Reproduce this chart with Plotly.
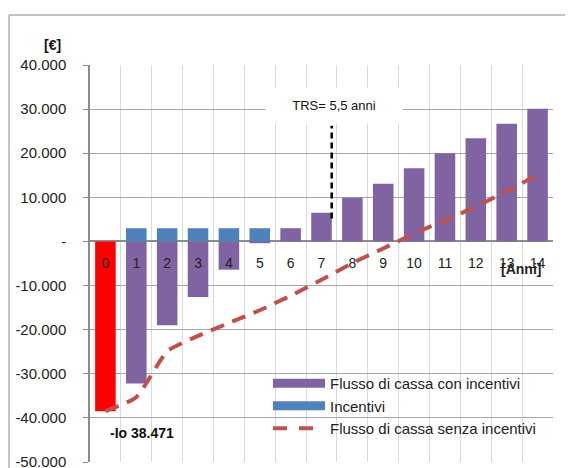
import plotly.graph_objects as go

# ---- data ----
anni = list(range(15))
flusso_con = [-38471, -32200, -19000, -12600, -6400, -400, 3000, 6500, 9900, 13100, 16600, 20000, 23400, 26700, 30100]
incentivi = [0, 3000, 3000, 3000, 3000, 3000, 0, 0, 0, 0, 0, 0, 0, 0, 0]
flusso_senza = [-38471, -35300, -24900, -21400, -18500, -15600, -12300, -8700, -4900, -1600, 1800, 4800, 7900, 11400, 15100]
y_tickvals = [40000, 30000, 20000, 10000, 0, -10000, -20000, -30000, -40000, -50000]
y_ticktext = ["40.000", "30.000", "20.000", "10.000", "-", "-10.000", "-20.000", "-30.000", "-40.000", "-50.000"]
trs_x = 7.33
trs_y = [5200, 26200]

PURPLE = "#8064a2"
BLUE = "#4f81bd"
RED = "#ff0000"
LINE_RED = "#c0504d"
FONT = "Liberation Sans"

# page has an 8px body margin; figure occupies page (8,8)-(573,468)
W, H = 565, 460
ML, MR, MT, MB = 82, 20, 57, 6
PW, PH = W - ML - MR, H - MT - MB
def px_x(px):  # page pixel -> paper
    return (px - 90) / PW
def px_y(py):
    return (462 - py) / PH

fig = go.Figure()

fig.add_trace(go.Bar(x=anni[:1], y=flusso_con[:1], marker=dict(color=RED, line=dict(width=0)),
                     showlegend=False, name="Investimento"))
fig.add_trace(go.Bar(x=anni[1:], y=flusso_con[1:], marker=dict(color=PURPLE, line=dict(width=0)),
                     showlegend=False, name="Flusso di cassa con incentivi"))
fig.add_trace(go.Bar(x=anni, y=incentivi, marker=dict(color=BLUE, line=dict(width=0)),
                     showlegend=False, name="Incentivi"))
fig.add_trace(go.Scatter(x=anni, y=flusso_senza, mode="lines",
                         line=dict(color=LINE_RED, width=4, dash="14px,9px", shape="spline", smoothing=0.5),
                         showlegend=False, name="Flusso di cassa senza incentivi"))

# legend entries (wide symbols as in the original)
fig.add_trace(go.Scatter(x=[None], y=[None], mode="lines", line=dict(color=PURPLE, width=9),
                         name="Flusso di cassa con incentivi"))
fig.add_trace(go.Scatter(x=[None], y=[None], mode="lines", line=dict(color=BLUE, width=9),
                         name="Incentivi"))
fig.add_trace(go.Scatter(x=[None], y=[None], mode="lines", line=dict(color=LINE_RED, width=4, dash="14px,12px"),
                         name="Flusso di cassa senza incentivi"))

fig.update_layout(
    width=W, height=H,
    margin=dict(l=ML, r=MR, t=MT, b=MB, autoexpand=False),
    paper_bgcolor="white", plot_bgcolor="white",
    barmode="relative", bargap=0.334,
    font=dict(family=FONT, size=14, color="#222222"),
    showlegend=True,
    legend=dict(x=px_x(268), y=px_y(367), xanchor="left", yanchor="top",
                bgcolor="rgba(0,0,0,0)", font=dict(size=15, color="#222222"),
                itemwidth=52, tracegroupgap=0),
    xaxis=dict(range=[-0.5, 14.5], tickmode="array", tickvals=anni, ticktext=[str(a) for a in anni],
               showgrid=False, zeroline=False, showline=False, automargin=False,
               anchor="free", position=px_y(241),
               ticks="outside", ticklen=9, tickcolor="rgba(0,0,0,0)",
               tickfont=dict(size=14, color="#222222"),
               minor=dict(tickvals=[a - 0.5 for a in anni] + [anni[-1] + 0.5], showgrid=True,
                          gridcolor="#d9d9d9", gridwidth=1.3, ticks="")),
    yaxis=dict(range=[-50000, 40000], tickmode="array", tickvals=y_tickvals, ticktext=y_ticktext,
               showgrid=True, gridcolor="#a6a6a6", gridwidth=1.3, automargin=False,
               zeroline=True, zerolinecolor="#8c8c8c", zerolinewidth=1.5,
               showline=True, linecolor="#8c8c8c", linewidth=1.5,
               ticks="outside", ticklen=5, tickcolor="#8c8c8c", ticklabelstandoff=14,
               ticklabeloverflow="allow",
               tickfont=dict(size=15, color="#222222")),
)

# outer chart frame (top and left edges visible)
fig.add_shape(type="line", xref="paper", yref="paper", x0=px_x(9), x1=px_x(580), y0=px_y(15), y1=px_y(15),
              line=dict(color="#b0b0b0", width=1.5), layer="below")
fig.add_shape(type="line", xref="paper", yref="paper", x0=px_x(9), x1=px_x(9), y0=px_y(15), y1=px_y(475),
              line=dict(color="#b0b0b0", width=1.5), layer="below")

# TRS marker
fig.add_shape(type="line", xref="x", yref="y", x0=trs_x, x1=trs_x, y0=trs_y[0], y1=trs_y[1],
              line=dict(color="black", width=2.5, dash="6px,4px"))

fig.add_annotation(x=7.4, y=30800, xref="x", yref="y", text="TRS= 5,5 anni", showarrow=False,
                   font=dict(size=13, color="#111111"), bgcolor="white", width=134, height=33)
fig.add_annotation(x=13.46, y=-6200, xref="x", yref="y", text="<b>[Anni]</b>", showarrow=False,
                   font=dict(size=14, color="#222222"))
fig.add_annotation(x=1.2, y=-43500, xref="x", yref="y", text="<b>-Io 38.471</b>", showarrow=False,
                   font=dict(size=14, color="#111111"))
fig.add_annotation(x=px_x(42), y=px_y(35), xref="paper", yref="paper", text="<b>[€]</b>", showarrow=False,
                   font=dict(size=14, color="#111111"))

fig.write_html("out.html")
